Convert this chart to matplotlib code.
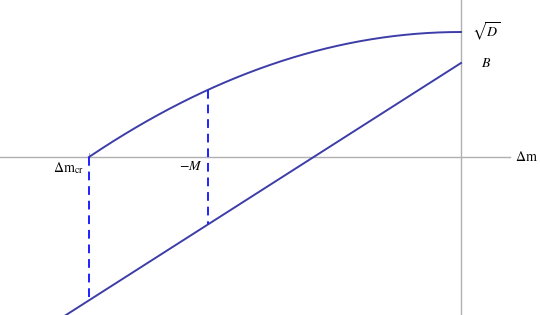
import numpy as np
import matplotlib.pyplot as plt

plt.rcParams['mathtext.fontset'] = 'stix'
plt.rcParams['font.family'] = 'serif'

# values in chart units (x: mass difference, y: value)
dm_cr = -3.72      # critical point where curve meets axis
minus_M = -2.53    # -M
sqrt_D = 1.25      # curve maximum at x = 0
B = 0.94           # line intercept at x = 0
slope = 0.638      # slope of the B line

x_lo, x_hi = -4.61, 0.79
y_lo, y_hi = -1.58, 1.57


def curve(x):
    # parabola with top at sqrt(D), zero at dm_cr
    return sqrt_D * (1 - (x / dm_cr) ** 2)


def line(x):
    return B + slope * x


fig = plt.figure(figsize=(5.4, 3.15), dpi=100)
ax = fig.add_axes([0, 0, 1, 1])
ax.set_xlim(x_lo, x_hi)
ax.set_ylim(y_lo, y_hi)
ax.axis('off')

axis_col = '#b0b0b0'
ax.plot([x_lo, 0.49], [0, 0], color=axis_col, lw=1.0)
ax.plot([0, 0], [y_lo, y_hi], color=axis_col, lw=1.0)

# small tick marks on the axis
for xt in (dm_cr, minus_M):
    ax.plot([xt, xt], [0, 0.04], color=axis_col, lw=0.8)

col = '#3d3da8'
xc = np.linspace(dm_cr, 0, 200)
ax.plot(xc, curve(xc), color=col, lw=1.4)
xl = np.linspace(x_lo, 0, 2)
ax.plot(xl, line(xl), color=col, lw=1.4)

dash_col = '#2020ff'
ax.plot([dm_cr, dm_cr], [0, line(dm_cr)], color=dash_col, lw=1.4, ls=(0, (4.5, 3)))
ax.plot([minus_M, minus_M], [curve(minus_M), line(minus_M)], color=dash_col, lw=1.4, ls=(0, (4.5, 3)))

fs = 10
ax.text(dm_cr - 0.05, -0.11, r'$\Delta\mathrm{m}_{\mathrm{cr}}$', ha='right', va='center', fontsize=fs)
ax.text(minus_M - 0.05, -0.09, r'$-M$', ha='right', va='center', fontsize=fs)
ax.text(x_hi - 0.02, 0, r'$\Delta\mathrm{m}$', ha='right', va='center', fontsize=fs)
ax.text(0.11, sqrt_D, r'$\sqrt{D}$', ha='left', va='center', fontsize=fs)
ax.text(0.2, B, r'$B$', ha='left', va='center', fontsize=fs)

fig.savefig('out.png', dpi=100)
